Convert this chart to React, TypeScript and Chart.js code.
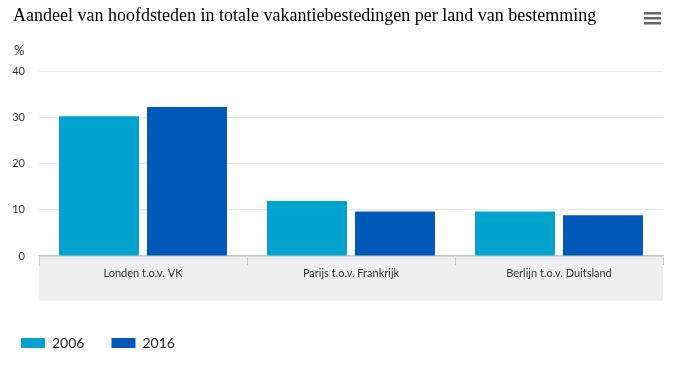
import React, { useEffect, useRef } from "react";
import { Chart, registerables } from "chart.js";

Chart.register(...registerables);

const TITLE = "Aandeel van hoofdsteden in totale vakantiebestedingen per land van bestemming";
const UNIT = "%";
const categories = ["Londen t.o.v. VK", "Parijs t.o.v. Frankrijk", "Berlijn t.o.v. Duitsland"];
const seriesNames = ["2006", "2016"];
const values2006 = [30.2, 11.9, 9.6];
const values2016 = [32.2, 9.6, 8.8];
const yTicks = [0, 10, 20, 30, 40];

const SANS = "Lato, 'Open Sans', sans-serif";

const decorPlugin = {
  id: "decor",
  beforeDraw(chart: any) {
    const { ctx, chartArea } = chart;
    ctx.save();
    ctx.fillStyle = "#efefef";
    ctx.fillRect(chartArea.left, chartArea.bottom, chartArea.right - chartArea.left, 45);
    ctx.restore();
  },
  afterDraw(chart: any) {
    const { ctx } = chart;
    ctx.save();
    ctx.fillStyle = "#000";
    ctx.font = "18px 'Liberation Serif', serif";
    ctx.textBaseline = "alphabetic";
    ctx.textAlign = "left";
    ctx.fillText(TITLE, 13, 21);
    ctx.fillStyle = "#333";
    ctx.font = "13px " + SANS;
    ctx.textBaseline = "middle";
    ctx.fillText(UNIT, 14, 51);
    ctx.fillStyle = "#666";
    for (let i = 0; i < 3; i++) {
      ctx.fillRect(644, 12 + i * 5, 17, 2.5);
    }
    ctx.restore();
  },
};

export default function App() {
  const ref = useRef<HTMLCanvasElement>(null);
  useEffect(() => {
    if (!ref.current) return;
    const chart = new Chart(ref.current, {
      type: "bar",
      data: {
        labels: categories,
        datasets: [
          {
            label: seriesNames[0],
            data: values2006,
            backgroundColor: "#00a2ce",
            borderWidth: 0,
            categoryPercentage: 0.846,
            barPercentage: 0.909,
          },
          {
            label: seriesNames[1],
            data: values2016,
            backgroundColor: "#0058b8",
            borderWidth: 0,
            categoryPercentage: 0.846,
            barPercentage: 0.909,
          },
        ],
      },
      plugins: [decorPlugin],
      options: {
        animation: false,
        responsive: false,
        layout: { padding: { left: -6, right: 14, top: 71, bottom: 6 } },
        plugins: {
          title: { display: false },
          tooltip: { enabled: false },
          legend: {
            display: true,
            position: "bottom",
            align: "start",
            labels: {
              boxWidth: 24,
              boxHeight: 10,
              padding: 27,
              color: "#222",
              font: { family: SANS, size: 14 },
            },
          },
        },
        scales: {
          x: {
            offset: true,
            grid: {
              offset: true,
              drawOnChartArea: false,
              drawTicks: true,
              tickLength: 9,
              color: "#cccccc",
            },
            border: { display: true, color: "#c8c8c8", width: 1.5 },
            ticks: {
              color: "#333",
              font: { family: SANS, size: 11 },
              padding: 2,
              maxRotation: 0,
            },
            afterFit: (scale: any) => {
              scale.height = 53;
            },
          },
          y: {
            min: 0,
            max: 40,
            afterBuildTicks: (scale: any) => {
              scale.ticks = yTicks.map((v) => ({ value: v }));
            },
            grid: { color: "#e6e6e6", drawTicks: false },
            border: { display: false },
            ticks: {
              color: "#333",
              font: { family: SANS, size: 11 },
              padding: 14,
            },
            afterFit: (scale: any) => {
              scale.width = 45;
            },
          },
        },
      },
    });
    return () => chart.destroy();
  }, []);
  return (
    <div style={{ position: "fixed", left: 0, top: 0, width: 677, height: 366, background: "#fff" }}>
      <canvas ref={ref} width={677} height={366} />
    </div>
  );
}
